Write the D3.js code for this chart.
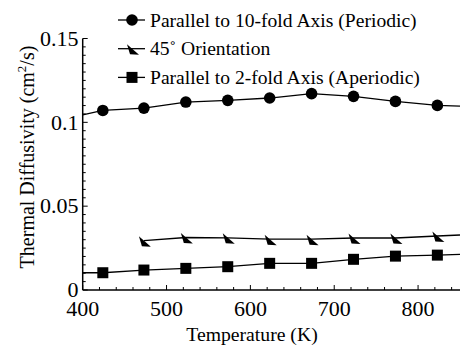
<!DOCTYPE html>
<html>
<head>
<meta charset="utf-8">
<script src="https://cdn.jsdelivr.net/npm/d3@7"></script>
<style>
  body { margin: 0; background: #fff; }
  svg { display: block; }
</style>
</head>
<body>
<div id="chart"></div>
<script>
// Temperatures (K) where the measurements sit
var temps = [424, 473, 523, 573, 623, 673, 723, 773, 823];

// Thermal diffusivity (cm^2/s) for each orientation
var periodic = [0.1071, 0.1085, 0.1121, 0.1131, 0.1145, 0.1171, 0.1155, 0.1125, 0.1101];
var diagonal = [null, 0.0294, 0.0313, 0.0311, 0.0303, 0.0303, 0.0310, 0.0310, 0.0322];
var aperiodic = [0.0103, 0.0119, 0.0129, 0.0139, 0.0159, 0.0159, 0.0183, 0.0202, 0.0208];

// where each curve meets the edges of the frame (400 K and 850 K)
var periodicEnds = [0.1045, 0.1097];
var diagonalEnds = [null, 0.0328];
var aperiodicEnds = [0.0103, 0.0212];

var xTicks = [400, 500, 600, 700, 800];
var yTicks = [0, 0.05, 0.1, 0.15];
var yTickLabels = ["0", "0.05", "0.1", "0.15"];

var legendNames = [
  "Parallel to 10-fold Axis (Periodic)",
  "45\u02da Orientation",
  "Parallel to 2-fold Axis (Aperiodic)"
];

var width = 468, height = 346;
var serif = "'Liberation Serif', 'Times New Roman', Times, 'DejaVu Serif', serif";

var x = d3.scaleLinear().domain([400, 850]).range([82.7, 460]);
var y = d3.scaleLinear().domain([0, 0.15]).range([290, 38.5]);

var svg = d3.select("#chart").append("svg")
  .attr("width", width)
  .attr("height", height)
  .attr("font-family", serif);

// builds [temp, value] pairs, adding the edge points if there are any
function points(vals, ends) {
  var pts = [];
  if (ends[0] != null) pts.push([400, ends[0]]);
  temps.forEach(function (t, i) {
    if (vals[i] != null) pts.push([t, vals[i]]);
  });
  if (ends[1] != null) pts.push([850, ends[1]]);
  return pts;
}

var line = d3.line()
  .x(function (d) { return x(d[0]); })
  .y(function (d) { return y(d[1]); });

var series = [
  { vals: periodic, ends: periodicEnds, marker: "circle" },
  { vals: diagonal, ends: diagonalEnds, marker: "triangle" },
  { vals: aperiodic, ends: aperiodicEnds, marker: "square" }
];

// the slanted triangle marker, relative to the data point
var triPath = "M-5,-4.5 L-2,5.5 L7,6 Z";

function drawMarker(g, kind, cx, cy) {
  if (kind === "circle") {
    g.append("circle").attr("cx", cx).attr("cy", cy).attr("r", 5.8).attr("fill", "#000");
  } else if (kind === "square") {
    g.append("rect").attr("x", cx - 5.5).attr("y", cy - 5.5)
      .attr("width", 11).attr("height", 11).attr("fill", "#000");
  } else {
    g.append("path").attr("d", triPath)
      .attr("transform", "translate(" + cx + "," + cy + ")").attr("fill", "#000");
  }
}

var plot = svg.append("g");

series.forEach(function (s) {
  plot.append("path")
    .datum(points(s.vals, s.ends))
    .attr("d", line)
    .attr("fill", "none")
    .attr("stroke", "#000")
    .attr("stroke-width", 1.3);

  var mg = plot.append("g");
  temps.forEach(function (t, i) {
    if (s.vals[i] != null) drawMarker(mg, s.marker, x(t), y(s.vals[i]));
  });
});

// axes: only left and bottom, ticks pointing inward
var axisG = svg.append("g").attr("stroke", "#000");

axisG.append("line")
  .attr("x1", x(400)).attr("x2", x(400))
  .attr("y1", y(0)).attr("y2", y(0.15))
  .attr("stroke-width", 1.5);
axisG.append("line")
  .attr("x1", x(400)).attr("x2", x(850))
  .attr("y1", y(0)).attr("y2", y(0))
  .attr("stroke-width", 1.5);

d3.range(400, 851, 20).forEach(function (v) {
  var major = xTicks.indexOf(v) >= 0;
  axisG.append("line")
    .attr("x1", x(v)).attr("x2", x(v))
    .attr("y1", y(0)).attr("y2", y(0) - (major ? 5 : 3))
    .attr("stroke-width", 1);
});

d3.range(0, 31).forEach(function (k) {
  var v = k * 0.005;
  var major = k % 10 === 0;
  axisG.append("line")
    .attr("x1", x(400)).attr("x2", x(400) + (major ? 5 : 3))
    .attr("y1", y(v)).attr("y2", y(v))
    .attr("stroke-width", 1);
});

svg.selectAll(".xlab")
  .data(xTicks)
  .enter()
  .append("text")
  .attr("class", "xlab")
  .attr("x", function (d) { return x(d); })
  .attr("y", 316)
  .attr("text-anchor", "middle")
  .attr("font-size", 22)
  .text(function (d) { return d; });

svg.selectAll(".ylab")
  .data(yTicks)
  .enter()
  .append("text")
  .attr("class", "ylab")
  .attr("x", 78.5)
  .attr("y", function (d) { return y(d) + 7.3; })
  .attr("text-anchor", "end")
  .attr("font-size", 22)
  .text(function (d, i) { return yTickLabels[i]; });

svg.append("text")
  .attr("x", 252)
  .attr("y", 341)
  .attr("text-anchor", "middle")
  .attr("font-size", 19.7)
  .text("Temperature (K)");

var yt = svg.append("text")
  .attr("transform", "translate(34,157) rotate(-90)")
  .attr("text-anchor", "middle")
  .attr("font-size", 20);
yt.append("tspan").text("Thermal Diffusivity (cm");
yt.append("tspan").attr("font-size", 13).attr("dy", -8).text("2");
yt.append("tspan").attr("dy", 8).text("/s)");

// legend
var legend = svg.append("g");
legendNames.forEach(function (name, i) {
  var ly = 20 + i * 28.7;
  legend.append("line")
    .attr("x1", 118).attr("x2", 145)
    .attr("y1", ly).attr("y2", ly)
    .attr("stroke", "#000").attr("stroke-width", 1.3);
  drawMarker(legend, series[i].marker, 132, ly);
  legend.append("text")
    .attr("x", 150)
    .attr("y", ly + 6.7)
    .attr("font-size", 19.6)
    .text(name);
});
</script>
</body>
</html>
